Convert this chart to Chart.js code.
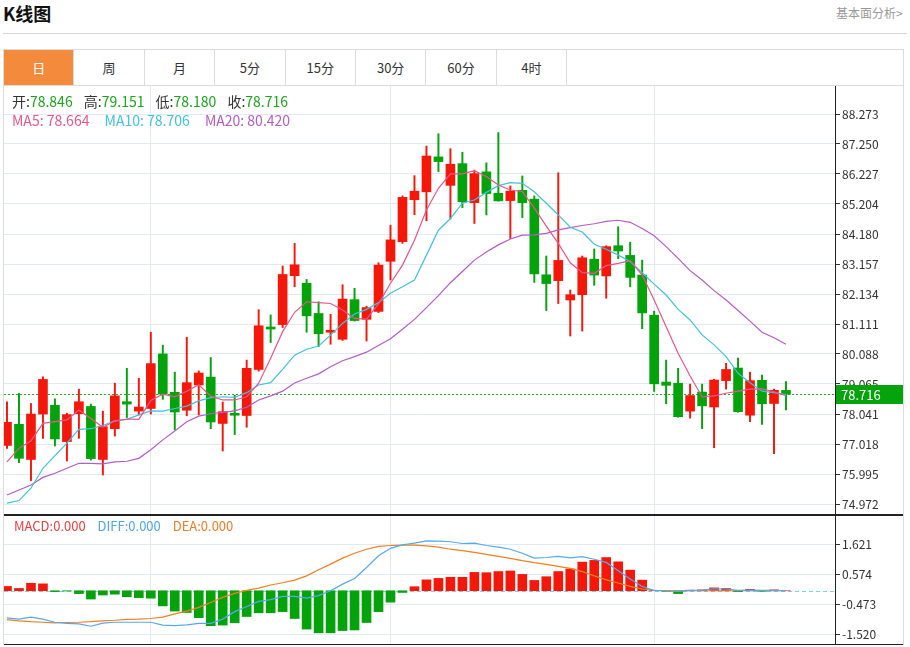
<!DOCTYPE html>
<html lang="zh-CN">
<head>
<meta charset="utf-8">
<title>K线图</title>
<script src="https://cdn.jsdelivr.net/npm/chart.js@4.4.1/dist/chart.umd.min.js"></script>
<style>
  body { margin: 0; background: #fff; font-family: "Noto Sans CJK SC", "Noto Sans", sans-serif; color: #333; }
  #page { position: relative; width: 910px; height: 647px; overflow: hidden; }
  .title { position: absolute; left: 3px; top: 0px; font-size: 18px; font-weight: bold; color: #111; }
  .more { position: absolute; left: 836px; top: 4px; font-size: 12px; color: #999; }
  .rule { position: absolute; left: 3px; top: 33px; width: 904px; height: 1px; background: #d6d6d6; }
  .tabs { position: absolute; left: 3px; top: 49px; width: 899px; height: 35px; border: 1px solid #dcdcdc; display: flex; }
  .tab { box-sizing: border-box; width: 70.4px; height: 35px; border-right: 1px solid #dcdcdc; text-align: center; line-height: 35px; font-size: 13px; color: #333; }
  .tab.on { background: #f38a3c; color: #fff; }
  .frame { position: absolute; left: 3px; top: 85px; width: 899px; height: 560px; border-left: 1px solid #dcdcdc; border-right: 1px solid #dcdcdc; }
  #mainWrap { position: absolute; left: 4px; top: 86px; width: 899px; height: 429px; }
  #macdWrap { position: absolute; left: 4px; top: 516px; width: 899px; height: 128px; }
  .hline { position: absolute; left: 4px; width: 899px; height: 1.5px; background: #222; }
  .info { position: absolute; left: 12px; font-size: 14px; white-space: nowrap; }
  .info span { margin-right: 8px; }
  .info .v { color: #1ba61b; font-weight: normal; }
  .ma span { margin-right: 12px; }
  .macdInfo { position: absolute; left: 14px; top: 516px; font-size: 13px; white-space: nowrap; }
  .macdInfo span { margin-right: 9px; }
</style>
</head>
<body>
<div id="page">
  <div class="title">K线图</div>
  <div class="more">基本面分析&gt;</div>
  <div class="rule"></div>
  <div class="tabs">
    <div class="tab on">日</div>
    <div class="tab">周</div>
    <div class="tab">月</div>
    <div class="tab">5分</div>
    <div class="tab">15分</div>
    <div class="tab">30分</div>
    <div class="tab">60分</div>
    <div class="tab">4时</div>
  </div>
  <div class="frame"></div>
  <div id="mainWrap"><canvas id="mainChart"></canvas></div>
  <div class="hline" style="top:514px"></div>
  <div id="macdWrap"><canvas id="macdChart"></canvas></div>
  <div class="hline" style="top:643.5px"></div>
  <div class="info" style="top:91px">
    <span>开:<b class="v">78.846</b></span>
    <span>高:<b class="v">79.151</b></span>
    <span>低:<b class="v">78.180</b></span>
    <span>收:<b class="v">78.716</b></span>
  </div>
  <div class="info ma" style="top:110px">
    <span style="color:#e8568a">MA5: 78.664</span>
    <span style="color:#3fc2dd">MA10: 78.706</span>
    <span style="color:#b45cc8">MA20: 80.420</span>
  </div>
  <div class="macdInfo">
    <span style="color:#ef3b3b">MACD:0.000</span>
    <span style="color:#4ea6ef">DIFF:0.000</span>
    <span style="color:#f47c26">DEA:0.000</span>
  </div>
</div>

<script>
// daily candles
const opens = [76.97, 77.69, 76.49, 78.04, 78.34, 77.10, 78.05, 78.30, 76.49, 77.54,
  78.46, 78.14, 78.23, 80.09, 78.78, 78.17, 79.03, 79.30, 77.72, 78.06,
  77.99, 79.56, 80.99, 81.09, 82.76, 82.50, 81.47, 80.83, 80.59, 81.94,
  81.27, 81.54, 83.25, 83.92, 85.35, 85.62, 86.81, 85.84, 86.58, 85.25,
  86.30, 85.57, 85.32, 85.67, 85.37, 82.79, 82.59, 81.93, 82.11, 83.32,
  82.75, 83.78, 83.45, 82.78, 81.41, 79.13, 79.09, 78.14, 78.79, 78.28,
  79.18, 79.61, 78.00, 79.19, 78.40, 78.846];
const highs = [78.46, 78.75, 78.40, 79.31, 78.56, 78.07, 78.89, 78.38, 78.14, 79.09,
  79.60, 79.26, 80.83, 80.39, 79.47, 80.66, 79.51, 79.97, 78.45, 78.68,
  79.88, 81.60, 81.42, 83.09, 83.86, 82.63, 81.87, 81.44, 82.45, 82.33,
  81.72, 83.20, 84.48, 85.48, 86.17, 87.18, 87.60, 87.09, 86.97, 86.36,
  86.61, 87.64, 85.82, 86.16, 85.48, 83.43, 86.27, 82.27, 83.43, 83.67,
  83.78, 84.43, 83.90, 83.29, 81.55, 79.88, 79.60, 79.06, 79.06, 79.23,
  79.77, 79.95, 79.47, 79.37, 78.89, 79.151];
const lows = [76.87, 76.38, 75.77, 77.21, 76.95, 76.44, 77.21, 76.47, 75.96, 77.29,
  77.92, 78.01, 78.04, 78.54, 77.50, 77.98, 78.01, 77.54, 76.78, 77.34,
  77.59, 79.50, 80.48, 80.99, 82.38, 80.83, 80.34, 80.42, 80.55, 81.21,
  80.53, 81.50, 82.61, 83.86, 84.84, 84.63, 86.31, 84.69, 85.08, 84.54,
  84.83, 85.30, 84.03, 84.74, 82.53, 81.57, 81.81, 80.70, 80.87, 82.43,
  81.99, 83.34, 82.38, 80.95, 78.81, 78.39, 77.93, 77.90, 77.54, 76.89,
  78.89, 78.10, 77.78, 77.69, 76.69, 78.180];
const closes = [77.76, 76.53, 78.04, 79.22, 77.19, 78.02, 78.46, 76.52, 77.61, 78.66,
  78.38, 78.28, 79.76, 78.72, 78.11, 79.11, 79.44, 77.77, 78.12, 78.00,
  79.60, 81.05, 80.94, 82.80, 83.13, 81.39, 80.78, 80.87, 81.96, 81.23,
  81.67, 83.12, 83.98, 85.43, 85.64, 86.84, 86.65, 86.56, 85.28, 86.24,
  85.56, 85.31, 85.64, 85.25, 82.82, 82.49, 83.28, 82.11, 83.37, 82.78,
  83.75, 83.60, 82.70, 81.49, 79.07, 79.02, 77.95, 78.67, 78.32, 79.20,
  79.56, 78.12, 79.18, 78.39, 78.85, 78.716];

const ma5 = [76.41, 76.87, 77.13, 77.72, 77.78, 77.84, 78.18, 77.89, 77.59, 77.80,
  77.87, 77.86, 78.50, 78.72, 78.63, 78.82, 79.04, 78.65, 78.52, 78.52,
  78.63, 79.09, 79.94, 80.85, 81.51, 81.87, 81.84, 81.81, 81.59, 81.30,
  81.28, 81.80, 82.50, 83.12, 83.97, 85.00, 85.74, 86.23, 86.23, 86.34,
  86.14, 85.85, 85.68, 85.63, 85.06, 84.45, 83.86, 83.20, 82.86, 82.84,
  83.10, 83.18, 83.27, 82.78, 81.93, 81.02, 80.11, 79.34, 78.63, 78.66,
  78.75, 78.82, 78.89, 78.90, 78.80, 78.664];
const ma10 = [75.00, 75.09, 75.51, 76.19, 76.62, 77.05, 77.52, 77.54, 77.65, 77.81,
  77.86, 78.01, 78.15, 78.14, 78.23, 78.31, 78.49, 78.60, 78.63, 78.61,
  78.77, 79.03, 79.11, 79.56, 80.05, 80.25, 80.36, 80.73, 81.13, 81.45,
  81.61, 81.84, 82.16, 82.38, 82.61, 83.46, 84.31, 84.71, 85.23, 85.34,
  85.60, 85.83, 85.93, 85.91, 85.62, 85.23, 84.83, 84.41, 84.25, 83.83,
  83.66, 83.46, 83.24, 82.86, 82.47, 82.10, 81.61, 81.25, 80.74, 80.40,
  80.00, 79.43, 79.11, 78.82, 78.77, 78.706];
const ma20 = [75.28, 75.45, 75.62, 75.88, 76.02, 76.19, 76.36, 76.36, 76.34, 76.41,
  76.43, 76.53, 76.82, 77.16, 77.46, 77.78, 77.97, 78.05, 78.10, 78.15,
  78.27, 78.52, 78.66, 78.82, 79.10, 79.26, 79.41, 79.65, 79.86, 80.00,
  80.15, 80.38, 80.61, 80.93, 81.27, 81.67, 82.08, 82.52, 82.90, 83.29,
  83.57, 83.81, 84.01, 84.14, 84.15, 84.20, 84.32, 84.40, 84.47, 84.53,
  84.61, 84.65, 84.58, 84.37, 84.12, 83.75, 83.35, 82.93, 82.61, 82.25,
  81.93, 81.57, 81.21, 80.83, 80.64, 80.42];

const macd = [0.15, 0.08, 0.26, 0.24, -0.03, -0.01, -0.10, -0.29, -0.15, -0.12,
  -0.21, -0.24, -0.26, -0.53, -0.71, -0.76, -0.94, -1.22, -1.20, -1.12,
  -0.90, -0.77, -0.77, -0.73, -0.97, -1.34, -1.47, -1.47, -1.39, -1.37,
  -1.11, -0.73, -0.40, -0.06, 0.14, 0.38, 0.43, 0.47, 0.47, 0.64,
  0.63, 0.67, 0.69, 0.57, 0.36, 0.49, 0.67, 0.76, 1.00, 1.06,
  1.16, 1.01, 0.72, 0.37, 0.01, -0.02, -0.10, 0.02, 0.03, 0.10,
  0.08, -0.03, 0.05, -0.02, 0.03, 0.00];
const diff = [-0.95, -0.99, -0.92, -0.99, -1.10, -1.14, -1.16, -1.24, -1.13, -1.10,
  -1.10, -1.10, -1.10, -1.20, -1.22, -1.19, -1.14, -1.14, -0.99, -0.73,
  -0.55, -0.37, -0.31, -0.20, -0.20, -0.26, -0.17, 0.00, 0.23, 0.43,
  0.81, 1.22, 1.48, 1.60, 1.66, 1.74, 1.73, 1.71, 1.65, 1.66,
  1.58, 1.52, 1.45, 1.31, 1.14, 1.16, 1.20, 1.15, 1.19, 1.10,
  0.99, 0.70, 0.41, 0.15, 0.01, -0.01, -0.02, 0.01, 0.02, 0.07,
  0.06, 0.01, 0.02, 0.01, 0.01, 0.00];
const dea = [-1.01, -1.05, -1.08, -1.10, -1.12, -1.11, -1.10, -1.08, -1.05, -1.03,
  -1.00, -0.99, -0.97, -0.92, -0.81, -0.71, -0.58, -0.41, -0.23, -0.09,
  0.01, 0.09, 0.20, 0.28, 0.37, 0.52, 0.73, 0.93, 1.14, 1.31,
  1.45, 1.55, 1.58, 1.59, 1.59, 1.57, 1.52, 1.45, 1.40, 1.34,
  1.27, 1.20, 1.13, 1.05, 0.98, 0.92, 0.85, 0.78, 0.67, 0.52,
  0.38, 0.27, 0.15, 0.06, 0.01, 0.00, 0.00, 0.00, 0.00, 0.00,
  0.00, 0.00, 0.00, 0.00, 0.00, 0.00];

// axis labels
const priceTicks = [74.972, 75.995, 77.018, 78.041, 79.065, 80.088, 81.111,
  82.134, 83.157, 84.180, 85.204, 86.227, 87.250, 88.273];
const macdTicks = [-1.520, -0.473, 0.574, 1.621];
const monthStarts = [12, 32, 54];

const upColor = "#f4180b";
const downColor = "#04a30c";
const gridColor = "#e1eaf2";
const fontFamily = '"Noto Sans CJK SC", "Noto Sans", sans-serif';

document.addEventListener("DOMContentLoaded", function () {
  Chart.defaults.font.family = fontFamily;
  Chart.defaults.color = "#333";

  const days = closes.map((c, i) => i);
  const lastClose = closes[closes.length - 1];
  const candleColors = closes.map((c, i) => (c >= opens[i] ? upColor : downColor));

  function xScale() {
    return {
      type: "linear",
      min: -0.25,
      max: 69.09,
      offset: false,
      afterBuildTicks: (scale) => {
        scale.ticks = monthStarts.map((v) => ({ value: v }));
      },
      afterFit: (scale) => {
        scale.height = 0;
        scale.paddingLeft = 0;
        scale.paddingRight = 0;
      },
      ticks: { display: false },
      grid: { color: gridColor, drawTicks: false, offset: false },
      border: { display: false },
    };
  }

  function yScale(min, max, tickList) {
    return {
      position: "right",
      min: min,
      max: max,
      afterBuildTicks: (scale) => {
        scale.ticks = tickList.map((v) => ({ value: v }));
      },
      afterFit: (scale) => {
        // keep the plot area full height, labels may touch the edges
        scale.width = 68;
        scale.paddingTop = 0;
        scale.paddingBottom = 0;
      },
      ticks: {
        padding: 2,
        color: "#333",
        font: { size: 12 },
        callback: (v) => Number(v).toFixed(3),
      },
      grid: { color: gridColor, tickColor: "#333", tickLength: 5 },
      border: { color: "#222", width: 1 },
    };
  }

  const lastPricePlugin = {
    id: "lastPrice",
    beforeDatasetsDraw(chart) {
      const { ctx, chartArea, scales } = chart;
      const y = Math.round(scales.y.getPixelForValue(lastClose)) + 0.5;
      ctx.save();
      ctx.strokeStyle = "#2aa82a";
      ctx.lineWidth = 1;
      ctx.setLineDash([2, 2]);
      ctx.beginPath();
      ctx.moveTo(chartArea.left, y);
      ctx.lineTo(chartArea.right, y);
      ctx.stroke();
      ctx.restore();
    },
    afterDraw(chart) {
      const { ctx, chartArea, scales, width } = chart;
      const y = Math.round(scales.y.getPixelForValue(lastClose));
      ctx.save();
      ctx.fillStyle = "#06a40c";
      ctx.fillRect(chartArea.right + 1, y - 9, width - chartArea.right - 1, 19);
      ctx.fillStyle = "#fff";
      ctx.font = "13px " + fontFamily;
      ctx.textBaseline = "middle";
      ctx.fillText(lastClose.toFixed(3), chartArea.right + 6, y + 1);
      ctx.restore();
    },
  };

  const zeroLinePlugin = {
    id: "zeroLine",
    beforeDatasetsDraw(chart) {
      const { ctx, chartArea, scales } = chart;
      const y = Math.round(scales.y.getPixelForValue(0)) + 0.5;
      ctx.save();
      ctx.strokeStyle = "#7fd2ea";
      ctx.lineWidth = 1;
      ctx.setLineDash([4, 3]);
      ctx.beginPath();
      ctx.moveTo(chartArea.left, y);
      ctx.lineTo(chartArea.right, y);
      ctx.stroke();
      ctx.restore();
    },
  };

  const baseOptions = {
    responsive: true,
    maintainAspectRatio: false,
    animation: false,
    events: [],
    layout: { padding: 0 },
    plugins: { legend: { display: false }, tooltip: { enabled: false } },
  };

  function maLine(data, color) {
    return {
      type: "line",
      data: data,
      borderColor: color,
      borderWidth: 1.2,
      pointRadius: 0,
      tension: 0,
      order: 0,
    };
  }

  new Chart(document.getElementById("mainChart"), {
    data: {
      labels: days,
      datasets: [
        maLine(ma5, "#e8568a"),
        maLine(ma10, "#3fc2dd"),
        maLine(ma20, "#b45cc8"),
        {
          type: "bar",
          data: opens.map((o, i) => [o, closes[i]]),
          backgroundColor: candleColors,
          barThickness: 9,
          minBarLength: 2,
          grouped: false,
          order: 1,
        },
        {
          type: "bar",
          data: lows.map((l, i) => [l, highs[i]]),
          backgroundColor: candleColors,
          barThickness: 1.3,
          grouped: false,
          order: 2,
        },
      ],
    },
    options: Object.assign({}, baseOptions, {
      scales: { x: xScale(), y: yScale(74.597, 89.228, priceTicks) },
    }),
    plugins: [lastPricePlugin],
  });

  new Chart(document.getElementById("macdChart"), {
    data: {
      labels: days,
      datasets: [
        {
          type: "line",
          data: diff,
          borderColor: "#55a9ee",
          borderWidth: 1.2,
          pointRadius: 0,
          order: 0,
        },
        {
          type: "line",
          data: dea,
          borderColor: "#f47e22",
          borderWidth: 1.2,
          pointRadius: 0,
          order: 0,
        },
        {
          type: "bar",
          data: macd,
          backgroundColor: macd.map((v) => (v >= 0 ? upColor : downColor)),
          barThickness: 9,
          grouped: false,
          order: 1,
        },
      ],
    },
    options: Object.assign({}, baseOptions, {
      scales: { x: xScale(), y: yScale(-1.86, 2.61, macdTicks) },
    }),
    plugins: [zeroLinePlugin],
  });
});
</script>
</body>
</html>
